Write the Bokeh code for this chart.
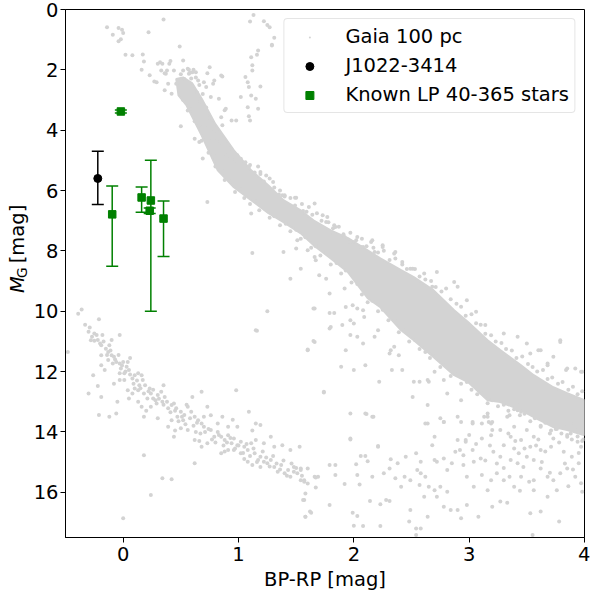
from math import pi
from bokeh.plotting import figure
from bokeh.layouts import row
from bokeh.models import Range1d, Legend, LegendItem, Label, FixedTicker
from bokeh.embed import file_html
from bokeh.resources import INLINE

FONT = "DejaVu Sans"
FS = "19.5px"
GRAY = "#d3d3d3"

# ---------------- data (BP-RP, M_G) ----------------
# dense core of the main sequence: upper (bright) and lower (faint) edges
ms_upper_x = [0.46, 0.52, 0.60, 0.68, 0.80, 0.96, 1.11, 1.26, 1.39, 1.54, 1.65, 1.80, 1.95,
              2.12, 2.23, 2.41, 2.52, 2.69, 2.87, 2.99, 3.16, 3.27, 3.45, 3.56, 3.73, 3.85, 4.00]
ms_upper_y = [2.30, 2.25, 2.45, 2.95, 3.80, 4.67, 5.33, 5.83, 6.32, 6.66, 6.99, 7.32, 7.58,
              7.98, 8.25, 8.64, 8.87, 9.30, 9.97, 10.36, 10.96, 11.29, 11.79, 12.12, 12.52, 12.72, 12.95]
ms_lower_x = [4.00, 3.85, 3.73, 3.56, 3.45, 3.27, 3.16, 2.99, 2.87, 2.69, 2.52, 2.41, 2.23,
              2.12, 1.95, 1.80, 1.65, 1.54, 1.39, 1.26, 1.11, 0.96, 0.82, 0.68, 0.55, 0.48]
ms_lower_y = [14.11, 13.94, 13.84, 13.51, 13.28, 13.01, 12.95, 12.35, 12.12, 11.52, 10.96, 10.63, 9.87,
              9.57, 8.71, 8.25, 7.81, 7.42, 7.05, 6.75, 6.32, 5.89, 5.33, 4.17, 3.18, 2.85]

# stars just outside the dense core, bright side
gaia_ms_edge_hi = [
    (0.50, 2.15), (0.53, 2.30), (0.58, 2.10), (0.63, 2.25), (0.66, 2.50), (0.64, 2.75),
    (0.69, 2.80), (0.67, 3.05), (0.72, 3.25), (0.70, 3.45), (0.75, 3.60), (0.74, 3.90),
    (0.79, 4.05), (0.78, 4.30), (0.84, 4.40), (0.86, 4.70), (0.90, 4.85), (0.93, 4.60),
    (0.97, 5.00), (1.02, 4.95), (1.04, 5.20), (1.10, 5.15), (1.14, 5.40), (1.19, 5.45),
    (1.22, 5.70), (1.27, 5.60), (1.31, 5.90), (1.36, 6.00), (1.40, 6.20), (1.45, 6.25),
    (1.49, 6.50), (1.55, 6.45), (1.59, 6.70), (1.64, 6.80), (1.68, 6.75), (1.72, 7.00),
    (1.78, 7.05), (1.82, 7.25), (1.87, 7.20), (1.91, 7.45), (1.97, 7.40), (2.02, 7.65),
    (2.07, 7.60), (2.11, 7.85), (2.17, 7.90), (2.21, 8.05), (2.26, 8.00), (2.31, 8.30),
    (2.36, 8.25), (2.42, 8.45), (2.46, 8.60), (2.53, 8.60), (2.57, 8.85), (2.62, 8.95),
    (2.67, 9.00), (2.71, 9.20), (2.76, 9.35), (2.80, 9.25), (2.84, 9.60), (2.89, 9.75),
    (2.93, 9.85), (2.97, 10.15), (3.02, 10.10), (3.06, 10.40), (3.10, 10.45), (3.14, 10.75),
    (3.19, 10.80), (3.23, 11.00), (3.28, 11.05), (3.32, 11.25), (3.37, 11.30), (3.41, 11.55),
    (3.46, 11.50), (3.51, 11.75), (3.55, 11.85), (3.59, 12.00), (3.64, 11.95), (3.68, 12.25),
    (3.72, 12.20), (3.77, 12.40), (3.81, 12.35), (3.86, 12.60), (3.90, 12.50), (3.94, 12.75),
    (3.98, 12.65),
]
# stars just outside the dense core, faint side
gaia_ms_edge_lo = [
    (0.52, 3.00), (0.56, 3.35), (0.60, 3.30), (0.62, 3.70), (0.66, 3.85), (0.68, 4.35),
    (0.72, 4.30), (0.74, 4.75), (0.78, 4.80), (0.80, 5.20), (0.85, 5.30), (0.88, 5.65),
    (0.93, 5.70), (0.97, 6.05), (1.01, 5.95), (1.05, 6.25), (1.10, 6.45), (1.14, 6.35),
    (1.18, 6.65), (1.23, 6.60), (1.27, 6.90), (1.31, 6.85), (1.36, 7.15), (1.41, 7.10),
    (1.45, 7.35), (1.50, 7.30), (1.54, 7.60), (1.58, 7.55), (1.63, 7.90), (1.67, 7.85),
    (1.71, 8.15), (1.76, 8.05), (1.80, 8.45), (1.85, 8.40), (1.89, 8.75), (1.93, 8.65),
    (1.98, 9.05), (2.03, 9.10), (2.07, 9.45), (2.12, 9.70), (2.16, 9.65), (2.21, 10.00),
    (2.25, 9.95), (2.30, 10.30), (2.35, 10.25), (2.39, 10.70), (2.44, 10.65), (2.48, 11.00),
    (2.53, 10.95), (2.57, 11.25), (2.62, 11.35), (2.66, 11.55), (2.71, 11.50), (2.75, 11.85),
    (2.80, 11.80), (2.84, 12.15), (2.89, 12.10), (2.93, 12.40), (2.98, 12.35), (3.02, 12.60),
    (3.07, 12.75), (3.11, 12.70), (3.16, 13.05), (3.20, 12.95), (3.25, 13.15), (3.30, 13.10),
    (3.34, 13.30), (3.39, 13.25), (3.44, 13.45), (3.48, 13.40), (3.53, 13.65), (3.57, 13.55),
    (3.62, 13.80), (3.66, 13.70), (3.71, 13.95), (3.75, 13.90), (3.80, 14.05), (3.85, 14.10),
    (3.89, 14.25), (3.94, 14.15), (3.98, 14.30),
]

# individual Gaia stars: upper region (turn-off, giants, blue stragglers)
gaia_upper = [
    (-0.14, 0.59), (-0.09, 0.84), (-0.04, 0.61), (-0.01, 0.67), (0.00, 0.78), (-0.04, 1.05),
    (-0.02, 0.99), (0.35, 0.33), (0.22, 0.75), (0.02, 1.50), (0.08, 1.52), (0.17, 1.49),
    (0.18, 1.72), (0.49, 1.23), (0.52, 1.69), (0.32, 1.75), (0.34, 1.80), (0.41, 1.71),
    (0.40, 1.80), (0.16, 2.00), (0.23, 2.18), (0.27, 2.39), (0.36, 2.11), (0.38, 2.02),
    (0.44, 2.02), (0.57, 2.00), (0.61, 2.00), (0.63, 2.08), (0.57, 2.13), (0.75, 1.91),
    (0.73, 2.11), (0.86, 2.22), (0.79, 2.35), (0.70, 2.41),
    (1.13, 0.18), (1.10, 0.40), (1.22, 0.39), (1.25, 0.51), (1.27, 0.59), (1.31, 0.94),
    (1.29, 1.17), (1.17, 1.36), (1.16, 1.50), (1.11, 1.58), (1.12, 1.85), (1.12, 2.02),
    (1.06, 2.24), (1.08, 2.41), (1.19, 2.55), (1.09, 2.57), (1.02, 2.90), (1.11, 2.85),
    (1.15, 2.96), (1.08, 3.24), (1.17, 3.29), (1.09, 3.54), (1.10, 3.68), (0.94, 3.68),
    (0.98, 3.68), (0.88, 3.34), (0.85, 3.57), (0.86, 3.84), (0.50, 3.87), (0.62, 4.28),
    (0.66, 4.39), (0.69, 4.94), (0.99, 4.83), (1.06, 5.06), (1.09, 5.22), (1.17, 5.20),
    (1.19, 5.39), (1.24, 5.50), (1.30, 5.72), (1.35, 6.13), (1.40, 6.16), (1.50, 6.24),
    (1.11, 6.76), (0.73, 6.38), (1.29, 1.19),
    (0.30, 1.80), (0.33, 2.02), (0.37, 2.13), (0.29, 2.41), (0.39, 2.46), (0.36, 2.68),
    (0.42, 2.79), (0.46, 2.46), (0.52, 2.02), (0.56, 1.96), (0.60, 2.08), (0.59, 2.29),
    (0.65, 2.35), (0.72, 2.57), (0.78, 2.46), (0.85, 2.19), (0.76, 2.90), (0.83, 2.96),
    (0.89, 3.29),
]

# individual Gaia stars scattered around the main sequence
gaia_ms = [
    (1.38, 6.16), (1.49, 6.24), (1.56, 6.68), (1.61, 6.55), (1.66, 6.43), (1.73, 6.82),
    (1.76, 7.04), (1.77, 6.88), (1.84, 7.21), (1.82, 7.43), (1.92, 7.54), (1.99, 7.71),
    (2.03, 7.54), (2.06, 7.87), (2.15, 7.71), (2.18, 8.04), (2.25, 7.87), (2.36, 8.04),
    (2.42, 8.37), (2.51, 8.59), (2.61, 8.75), (2.72, 8.70), (2.68, 9.19), (1.39, 8.04),
    (1.51, 7.65), (1.50, 7.92), (1.60, 7.98), (1.66, 8.20), (1.67, 8.31), (1.54, 8.59),
    (1.45, 8.92), (1.70, 8.81), (1.76, 8.92), (1.79, 9.41), (1.92, 9.25), (1.93, 9.86),
    (1.99, 9.80), (2.03, 9.91), (2.08, 9.97), (1.66, 9.91), (1.79, 10.06), (1.83, 10.06),
    (1.80, 10.52), (1.90, 10.46), (1.97, 10.30), (2.00, 10.41), (2.09, 10.19), (1.97, 10.79),
    (2.03, 10.85), (2.08, 11.07), (1.66, 11.02), (1.60, 11.29), (1.93, 11.29), (2.21, 10.63),
    (2.35, 11.18), (2.39, 11.46), (2.31, 11.40), (1.74, 12.67), (1.97, 13.39), (2.10, 13.39),
    (2.16, 13.50), (1.97, 14.22), (2.21, 14.49), (2.51, 12.84), (2.64, 13.11), (2.75, 13.55),
    (2.78, 13.67), (2.70, 14.16), (2.57, 12.34), (2.52, 12.34), (2.65, 12.34), (2.81, 12.73),
    (2.93, 13.67), (3.03, 13.67), (2.97, 14.27), (3.13, 13.50), (3.17, 13.67), (3.20, 13.94),
    (2.33, 11.95), (2.42, 11.95), (2.22, 12.34), (1.89, 11.84), (2.00, 11.95), (2.10, 11.79),
    (1.79, 10.57), (2.18, 10.85), (2.32, 11.29), (1.83, 7.15), (1.97, 7.71), (2.08, 7.87),
    (2.16, 7.65), (2.25, 7.81), (2.35, 8.09), (2.49, 8.59), (2.87, 9.03), (2.90, 9.19),
    (2.98, 9.64), (3.06, 10.02), (3.14, 10.46), (3.30, 10.74), (3.42, 10.85), (3.50, 11.07),
    (3.62, 11.29), (3.79, 10.96), (3.68, 11.73), (3.85, 11.90), (3.97, 12.01), (3.79, 11.02),
    (3.53, 11.40), (3.60, 11.29), (3.73, 11.51), (3.84, 11.95), (3.92, 11.90), (3.98, 12.01),
    (3.68, 11.79), (2.64, 12.28), (2.70, 12.01), (2.78, 12.28), (2.93, 12.95), (2.64, 13.72),
    (2.90, 13.50), (3.03, 13.72), (3.16, 13.50), (3.19, 13.72), (3.33, 13.50), (3.45, 13.33),
    (1.12, 8.07), (1.16, 10.65), (1.25, 10.00), (1.15, 10.63), (1.65, 9.91), (1.60, 11.27),
    (1.65, 10.99), (0.98, 12.62),
]

# individual Gaia stars in the diffuse cloud below the main sequence
gaia_cloud = [
    (1.74, 12.69), (2.11, 13.41), (2.17, 13.50), (1.97, 14.25), (2.21, 14.47), (1.54, 15.21),
    (1.57, 15.60), (1.67, 15.51), (1.79, 15.10), (1.84, 15.10), (1.84, 15.43), (1.67, 15.84),
    (1.92, 15.73), (2.02, 15.07), (2.06, 14.80), (2.10, 14.80), (2.12, 14.97), (2.16, 15.49),
    (2.03, 15.43), (2.05, 15.74), (1.57, 16.26), (1.79, 16.42), (1.99, 16.68), (2.03, 16.79),
    (2.00, 17.11), (2.08, 17.12), (2.23, 17.12), (1.63, 16.68), (1.58, 16.81), (2.14, 16.29),
    (2.23, 16.40), (2.28, 16.26), (2.31, 16.29), (2.32, 14.91), (2.31, 15.21), (2.26, 15.37),
    (2.36, 15.54), (2.44, 15.49), (2.41, 15.82), (2.49, 15.60), (2.55, 15.26), (2.58, 15.37),
    (2.62, 15.49), (2.57, 15.76), (2.65, 15.82), (2.70, 15.93), (2.75, 15.82), (2.81, 15.98),
    (2.72, 16.15), (2.61, 16.15), (2.49, 16.59), (2.48, 16.97), (2.54, 17.42), (2.58, 17.20),
    (2.54, 17.20), (2.64, 16.81), (2.78, 16.48), (2.84, 16.59), (2.90, 16.59), (2.93, 16.86),
    (2.98, 16.42), (3.08, 16.81), (3.20, 16.48), (3.27, 16.31), (3.33, 16.35), (3.53, 16.70),
    (3.62, 16.64), (3.78, 16.97), (3.55, 17.42),
    (2.70, 14.93), (2.78, 14.88), (2.85, 15.04), (2.88, 14.66), (2.95, 14.77), (2.95, 15.10),
    (3.04, 14.99), (3.10, 14.88), (3.03, 14.60), (2.97, 14.33), (2.90, 14.27), (2.72, 14.99),
    (2.81, 15.26), (2.98, 15.49), (3.11, 15.43), (3.19, 15.60), (3.16, 15.93), (3.04, 15.82),
    (3.24, 15.37), (3.30, 15.60), (3.35, 15.49), (3.39, 15.82), (3.45, 15.49), (3.47, 15.16),
    (3.42, 15.04), (3.36, 14.93), (3.27, 14.82), (3.21, 14.66), (3.30, 14.44), (3.39, 14.55),
    (3.43, 14.71), (3.50, 14.82), (3.56, 14.93), (3.62, 15.21), (3.56, 15.60), (3.68, 15.49),
    (3.73, 15.60), (3.79, 15.37), (3.85, 15.21), (3.92, 15.49), (3.95, 15.04), (3.98, 15.98),
    (3.76, 15.93), (3.68, 16.15), (3.56, 15.93), (3.53, 14.49), (3.62, 14.60), (3.71, 14.49),
    (3.82, 14.66), (3.89, 14.82), (3.97, 14.49), (3.73, 14.22), (3.85, 14.16), (3.94, 14.33),
    (3.56, 14.16), (3.45, 14.27), (3.36, 14.16), (3.39, 13.83), (3.50, 13.94), (3.62, 13.83),
    (3.73, 13.63), (3.82, 13.83), (3.91, 13.72), (3.27, 13.94), (3.19, 14.11), (3.11, 14.22),
    (3.11, 13.72), (3.20, 13.67), (3.16, 13.39), (3.35, 13.45), (3.42, 13.28), (3.45, 13.06),
    (2.62, 13.72), (2.78, 13.67), (2.68, 14.44), (2.54, 14.71), (2.45, 14.82), (2.38, 15.04),
    (2.58, 14.99),
    (3.70, 14.05), (3.78, 14.35), (3.88, 14.05), (3.95, 14.70), (3.99, 14.25), (3.66, 14.65),
    (3.58, 14.45), (3.48, 14.55), (3.40, 14.30), (3.83, 15.05), (3.90, 15.25), (3.63, 15.00),
    (3.70, 15.35), (3.97, 15.70), (3.86, 15.80), (3.52, 15.65), (3.44, 15.95), (3.30, 15.20),
    (3.24, 15.05), (3.14, 14.95), (3.06, 14.40), (3.00, 14.10), (2.92, 14.60), (3.18, 14.45),
    (3.34, 14.05), (3.93, 13.95), (3.76, 13.90), (3.60, 14.25),
]

# individual Gaia stars on the white-dwarf sequence
gaia_wd = [
    (-0.39, 10.08), (-0.36, 9.94), (-0.21, 10.27), (-0.48, 11.35), (-0.29, 10.54), (-0.30, 10.68),
    (-0.25, 10.74), (-0.23, 10.79), (-0.28, 10.96), (-0.25, 10.98), (-0.20, 11.07), (-0.18, 10.79),
    (-0.19, 11.13), (-0.15, 11.24), (-0.13, 11.35), (-0.10, 11.46), (-0.12, 11.13), (-0.03, 10.79),
    (-0.08, 11.51), (-0.06, 11.68), (-0.09, 11.73), (-0.03, 11.73), (0.00, 11.68), (-0.02, 11.90),
    (0.03, 11.84), (0.04, 11.68), (0.05, 11.95), (0.01, 12.06), (-0.03, 12.06), (-0.13, 11.62),
    (-0.19, 11.46), (-0.16, 11.95), (-0.19, 11.79), (-0.26, 12.12), (-0.22, 12.48), (-0.30, 12.73),
    (-0.19, 12.84), (-0.21, 13.44), (-0.12, 13.50), (-0.06, 13.39), (-0.05, 13.00), (-0.08, 12.40),
    (-0.03, 12.28), (0.01, 12.28), (0.04, 12.62), (0.08, 12.23), (0.10, 12.12), (0.13, 12.06),
    (0.16, 12.12), (0.17, 12.28), (0.14, 12.45), (0.10, 12.56), (0.08, 12.73), (0.13, 12.62),
    (0.18, 12.73), (0.23, 12.56), (0.24, 12.73), (0.21, 12.89), (0.26, 12.89), (0.30, 12.78),
    (0.33, 12.67), (0.36, 12.84), (0.34, 13.00), (0.29, 13.06), (0.24, 13.17), (0.16, 13.17),
    (0.13, 13.00), (0.05, 12.89), (0.18, 13.50), (0.30, 13.55), (0.39, 13.22), (0.42, 13.11),
    (0.44, 13.06), (0.46, 13.22), (0.50, 13.33), (0.53, 13.44), (0.52, 13.61), (0.47, 13.50),
    (0.42, 13.61), (0.39, 13.83), (0.56, 13.17), (0.59, 13.33), (0.62, 13.50), (0.65, 13.61),
    (0.68, 13.72), (0.70, 13.83), (0.70, 13.50), (0.73, 13.17), (0.68, 12.67), (0.60, 12.84),
    (0.63, 14.00), (0.56, 13.94), (0.50, 13.88), (0.44, 14.16), (0.62, 14.27), (0.68, 14.49),
    (0.73, 14.38), (0.79, 14.16), (0.76, 13.94), (0.82, 14.00), (0.85, 14.16), (0.88, 14.27),
    (0.91, 14.11), (0.94, 14.38), (0.96, 14.22), (0.99, 14.44), (1.02, 14.33), (1.05, 14.49),
    (1.08, 14.60), (1.02, 14.71), (0.96, 14.60), (0.91, 14.60), (0.85, 14.71), (0.82, 13.72),
    (0.86, 13.50), (0.91, 13.83), (0.99, 13.83), (1.11, 14.38), (1.14, 14.71), (1.17, 14.93),
    (1.19, 14.82), (1.22, 14.99), (1.25, 15.04), (1.19, 15.16), (1.12, 15.10), (1.08, 14.99),
    (1.28, 14.93), (1.31, 15.16), (1.34, 15.32), (1.37, 15.10), (1.40, 15.37), (1.43, 15.26),
    (1.45, 15.49), (1.48, 15.32), (1.51, 15.37), (1.54, 15.60), (1.57, 15.65), (1.60, 15.21),
    (1.54, 15.26), (1.48, 15.16), (1.53, 14.49), (1.38, 14.44), (1.45, 14.60), (1.31, 14.49),
    (1.22, 14.38), (1.28, 14.16), (1.15, 14.27), (1.19, 13.77), (1.09, 13.33), (1.15, 13.72),
    (1.60, 15.71), (1.66, 15.49), (1.69, 15.49), (1.58, 16.04), (1.56, 16.26), (1.62, 16.64),
    (1.58, 16.81), (0.18, 14.77), (0.34, 15.54), (0.42, 15.57), (0.24, 16.09), (0.00, 16.86),
    (0.62, 15.04),
    (-0.33, 10.45), (-0.27, 10.85), (-0.22, 10.95), (-0.17, 11.00), (-0.14, 11.45), (-0.11, 11.30),
    (-0.07, 11.60), (-0.04, 11.45), (-0.01, 11.80), (0.02, 12.00), (0.06, 12.10), (0.09, 12.40),
    (0.12, 12.30), (0.15, 12.55), (0.19, 12.45), (0.22, 12.65), (0.26, 12.60), (0.28, 12.95),
    (0.31, 12.90), (0.35, 13.10), (0.38, 13.00), (0.41, 13.35), (0.45, 13.30), (0.48, 13.65),
    (0.51, 13.50), (0.54, 13.75), (0.58, 13.55), (0.61, 13.80), (0.64, 13.70), (0.67, 14.05),
    (0.71, 14.00), (0.74, 13.90), (0.77, 14.25), (0.80, 14.35), (0.83, 14.10), (0.87, 14.45),
    (0.90, 14.35), (0.93, 14.20), (0.97, 14.55), (1.00, 14.45), (1.04, 14.70), (1.07, 14.40),
    (1.10, 14.80), (1.13, 14.55), (1.16, 15.00), (1.21, 14.65), (1.24, 14.85), (1.27, 15.15),
    (1.30, 14.80), (1.33, 15.05), (1.36, 15.25), (1.39, 14.95), (1.42, 15.45), (1.46, 15.05),
    (1.50, 15.20), (1.55, 15.45), (1.12, 13.95), (0.95, 13.60), (0.76, 13.45), (0.55, 13.10),
    (0.35, 12.45), (0.06, 11.55), (-0.10, 10.95), (0.20, 13.30), (0.45, 13.95), (0.66, 14.30),
    (0.88, 14.65), (1.05, 14.90),
]

# J1022-3414
j_x = [-0.22]
j_y = [5.60]
j_lo = [4.70]
j_hi = [6.46]

# known LP 40-365 stars
lp_x = [-0.02, -0.095, 0.16, 0.24, 0.23, 0.35]
lp_y = [3.38, 6.79, 6.23, 6.33, 6.67, 6.93]
lp_lo = [3.33, 5.85, 5.88, 5.00, 6.58, 6.35]
lp_hi = [3.43, 8.51, 6.72, 10.00, 6.76, 8.19]

x_ticks = [0, 1, 2, 3, 4]
y_ticks = [0, 2, 4, 6, 8, 10, 12, 14, 16]

# ---------------- main figure ----------------
p = figure(width=560, height=594, output_backend="svg", toolbar_location=None,
           x_range=Range1d(-0.5, 4), y_range=Range1d(17.5, 0),
           min_border_left=34, min_border_right=6, min_border_top=9, min_border_bottom=57)
p.xgrid.visible = False
p.ygrid.visible = False
p.outline_line_color = "black"
p.outline_line_alpha = 1.0
p.outline_line_width = 1
p.background_fill_color = "white"
p.border_fill_color = "white"

for ax, ticks in ((p.xaxis[0], x_ticks), (p.yaxis[0], y_ticks)):
    ax.ticker = FixedTicker(ticks=ticks)
    ax.minor_tick_line_color = None
    ax.major_tick_in = 0
    ax.major_tick_out = 5
    ax.major_tick_line_color = "black"
    ax.axis_line_color = "black"
    ax.major_label_text_font = FONT
    ax.major_label_text_font_size = FS
    ax.major_label_text_color = "black"
    ax.axis_label_text_font = FONT
    ax.axis_label_text_font_size = FS
    ax.axis_label_text_font_style = "normal"
    ax.axis_label_text_color = "black"

p.xaxis.axis_label = "BP-RP [mag]"
p.xaxis.major_label_standoff = 4
p.xaxis.axis_label_standoff = 4
p.yaxis.major_label_standoff = 2

# main-sequence dense core
p.patch(ms_upper_x + ms_lower_x, ms_upper_y + ms_lower_y,
        fill_color=GRAY, line_color=GRAY, line_width=2)

gx, gy = [], []
for group in (gaia_ms_edge_hi, gaia_ms_edge_lo, gaia_upper, gaia_ms, gaia_cloud, gaia_wd):
    gx += [pt[0] for pt in group]
    gy += [pt[1] for pt in group]
# "dot" markers: the dot is a quarter of the marker radius, so it stays small in the legend
r_gaia = p.scatter(gx, gy, marker="dot", size=16, fill_color=GRAY, line_color=GRAY)

# J1022-3414 with error bars
p.segment(x0=j_x, y0=j_lo, x1=j_x, y1=j_hi, line_color="black", line_width=1.5)
p.scatter(j_x, j_lo, marker="dash", size=12, line_color="black", line_width=1.5)
p.scatter(j_x, j_hi, marker="dash", size=12, line_color="black", line_width=1.5)
r_j = p.scatter(j_x, j_y, marker="circle", size=8, fill_color="black", line_color="black")

# Known LP 40-365 stars with error bars
p.segment(x0=lp_x, y0=lp_lo, x1=lp_x, y1=lp_hi, line_color="green", line_width=1.5)
p.scatter(lp_x, lp_lo, marker="dash", size=12, line_color="green", line_width=1.5)
p.scatter(lp_x, lp_hi, marker="dash", size=12, line_color="green", line_width=1.5)
r_lp = p.scatter(lp_x, lp_y, marker="square", size=7.5, fill_color="green", line_color="green")

legend_kw = dict(location="top_right", margin=9, padding=5, spacing=4,
                 glyph_width=40, glyph_height=20, label_height=25, label_standoff=16,
                 label_text_font=FONT, label_text_font_size=FS, label_text_color="black",
                 border_line_color="#cccccc", border_line_width=1,
                 background_fill_color="white", background_fill_alpha=0.8)
if "border_radius" in Legend.properties():
    legend_kw["border_radius"] = 4
legend = Legend(items=[LegendItem(label="Gaia 100 pc", renderers=[r_gaia]),
                       LegendItem(label="J1022-3414", renderers=[r_j]),
                       LegendItem(label="Known LP 40-365 stars", renderers=[r_lp])],
                **legend_kw)
p.add_layout(legend)

# ---------------- narrow strip carrying the y-axis label  M_G [mag] ----------------
ylab = figure(width=30, height=594, output_backend="svg", toolbar_location=None,
              x_range=Range1d(0, 30), y_range=Range1d(594, 0),
              x_axis_location=None, y_axis_location=None, min_border=0,
              min_border_left=0, min_border_right=0, min_border_top=0, min_border_bottom=0)
ylab.outline_line_color = None
ylab.grid.visible = False
ylab.background_fill_color = "white"
ylab.border_fill_color = "white"
ylab.add_layout(Label(x=17, y=319, text="M", angle=pi / 2,
                      text_font=FONT, text_font_size=FS, text_font_style="italic",
                      text_color="black", text_align="left", text_baseline="middle"))
ylab.add_layout(Label(x=21.5, y=302, text="G", angle=pi / 2,
                      text_font=FONT, text_font_size="13.6px", text_color="black",
                      text_align="left", text_baseline="middle"))
ylab.add_layout(Label(x=17, y=285.5, text="[mag]", angle=pi / 2,
                      text_font=FONT, text_font_size=FS, text_color="black",
                      text_align="left", text_baseline="middle"))

layout = row(ylab, p, spacing=0)
open("out.html", "w").write(file_html(layout, INLINE))
